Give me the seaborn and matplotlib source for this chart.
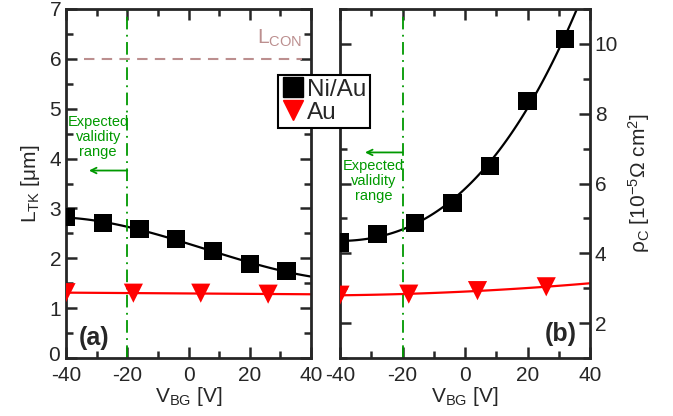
import numpy as np
import pandas as pd
import seaborn as sns
import matplotlib.pyplot as plt
from matplotlib.lines import Line2D
from matplotlib.transforms import ScaledTranslation

sns.set_style("ticks")
plt.rcParams['font.family'] = ['Liberation Sans', 'DejaVu Sans']
plt.rcParams['mathtext.fontset'] = 'custom'
plt.rcParams['mathtext.rm'] = 'Liberation Sans'
plt.rcParams['mathtext.it'] = 'Liberation Sans:italic'
plt.rcParams['mathtext.bf'] = 'Liberation Sans:bold'
plt.rcParams['axes.unicode_minus'] = False

# data
vbg_niau = [-40, -28, -16, -4, 8, 20, 32]
ltk_niau = [2.83, 2.70, 2.58, 2.39, 2.14, 1.89, 1.74]
rho_niau = [4.31, 4.55, 4.88, 5.44, 6.51, 8.36, 10.15]

vbg_au = [-40, -18, 4, 26]
ltk_au = [1.31, 1.30, 1.30, 1.28]
rho_au = [2.80, 2.83, 2.93, 3.04]

l_con = 6.0
v_valid = -20

green = '#009900'
rosy = '#bc8f8f'

fig = plt.figure(figsize=(6.73, 4.16), dpi=100)
ax1 = fig.add_axes([66/673, 1-358/416, (311-66)/673, (358-9)/416])
ax2 = fig.add_axes([340/673, 1-358/416, (590-340)/673, (358-9)/416])


def style_axis(ax, ymaj, ymin):
    ax.set_xlim(-40, 40)
    ax.set_xticks([-40, -20, 0, 20, 40])
    ax.set_xticks(np.arange(-40, 41, 10), minor=True)
    ax.set_yticks(ymaj)
    ax.set_yticks(ymin, minor=True)
    for s in ax.spines.values():
        s.set_linewidth(2)
        s.set_visible(True)
    ax.tick_params(which='both', direction='in', top=True, right=True,
                   left=True, bottom=True, width=1.8, labelsize=15)
    ax.tick_params(which='major', length=8)
    ax.tick_params(which='minor', length=5)
    ax.tick_params(axis='x', pad=6)
    ax.set_xlabel('V$_{\\mathrm{BG}}$ [V]', fontsize=15, labelpad=0)


# ---- panel (a)
ax1.set_ylim(0, 7)
style_axis(ax1, np.arange(0, 8, 1), np.arange(0, 7.01, 0.5))
sns.regplot(x=vbg_niau, y=ltk_niau, order=3, ci=None, truncate=False, scatter=False,
            line_kws=dict(color='k', lw=1.6), ax=ax1)
sns.regplot(x=vbg_au, y=ltk_au, order=1, ci=None, truncate=False, scatter=False,
            line_kws=dict(color='red', lw=1.6), ax=ax1)
sns.scatterplot(x=vbg_niau, y=ltk_niau, marker='s', s=170, color='k',
                edgecolor='none', ax=ax1, zorder=4)
sns.scatterplot(x=vbg_au, y=ltk_au, marker='v', s=190, color='red',
                edgecolor='none', ax=ax1, zorder=4)
ax1.hlines(l_con, -34, 37, colors=rosy, linestyles=(0, (5, 3.5)), lw=1.5)
ax1.text(37, 6.2, 'L$_{\\mathrm{CON}}$', color=rosy, fontsize=15, ha='right', va='bottom')
ax1.axvline(v_valid, color=green, lw=1.3, ls=(0, (7, 3, 1, 3)))
ax1.text(-29.5, 4.43, 'Expected\nvalidity\nrange', color=green, fontsize=10.5,
         ha='center', va='center', linespacing=1.1)
ax1.annotate('', xy=(-32.5, 3.76), xytext=(-20, 3.76),
             arrowprops=dict(arrowstyle='->', color=green, lw=1.3, shrinkA=0, shrinkB=0))
ax1.text(-30.8, 0.4, '(a)', fontsize=18, fontweight='bold', ha='center', va='center')
ax1.set_ylabel('L$_{\\mathrm{TK}}$ [μm]', fontsize=15, labelpad=4)

# nudge the "0" label so it does not collide with "-40"
zero_lbl = ax1.get_yticklabels()[0]
zero_lbl.set_transform(zero_lbl.get_transform() +
                       ScaledTranslation(-1/72, 3/72, fig.dpi_scale_trans))

# ---- panel (b)
ax2.set_ylim(1, 11)
style_axis(ax2, np.arange(2, 11, 2), np.arange(1, 11.01, 1))
ax2.tick_params(which='both', labelleft=False, labelright=True)
sns.regplot(x=vbg_niau, y=rho_niau, order=3, ci=None, truncate=False, scatter=False,
            line_kws=dict(color='k', lw=1.6), ax=ax2)
sns.regplot(x=vbg_au, y=rho_au, order=2, ci=None, truncate=False, scatter=False,
            line_kws=dict(color='red', lw=1.6), ax=ax2)
sns.scatterplot(x=vbg_niau, y=rho_niau, marker='s', s=170, color='k',
                edgecolor='none', ax=ax2, zorder=4)
sns.scatterplot(x=vbg_au, y=rho_au, marker='v', s=190, color='red',
                edgecolor='none', ax=ax2, zorder=4)
ax2.axvline(v_valid, color=green, lw=1.3, ls=(0, (7, 3, 1, 3)))
ax2.text(-29.3, 6.07, 'Expected\nvalidity\nrange', color=green, fontsize=10.5,
         ha='center', va='center', linespacing=1.1)
ax2.annotate('', xy=(-32, 6.89), xytext=(-20, 6.89),
             arrowprops=dict(arrowstyle='->', color=green, lw=1.3, shrinkA=0, shrinkB=0))
ax2.text(30.6, 1.7, '(b)', fontsize=18, fontweight='bold', ha='center', va='center')
ax2.yaxis.set_label_position('right')
ax2.set_ylabel('ρ$_{\\mathrm{C}}$ [10$^{-5}$Ω cm$^{2}$]', fontsize=15, labelpad=6)
ax2.set_xlim(-40, 40)
ax1.set_xlim(-40, 40)

handles = [Line2D([], [], marker='s', color='k', ls='none', markersize=14),
           Line2D([], [], marker='v', color='red', ls='none', markersize=15)]
leg = fig.legend(handles, ['Ni/Au', 'Au'], loc='upper left',
                 bbox_to_anchor=(278/673, 1-75/416), borderaxespad=0,
                 fontsize=17.5, fancybox=False, framealpha=1, edgecolor='k',
                 handlelength=0.9, handletextpad=0.15, borderpad=0.15,
                 labelspacing=0.05)
leg.get_frame().set_linewidth(1.5)

fig.savefig('out.png', dpi=100)
